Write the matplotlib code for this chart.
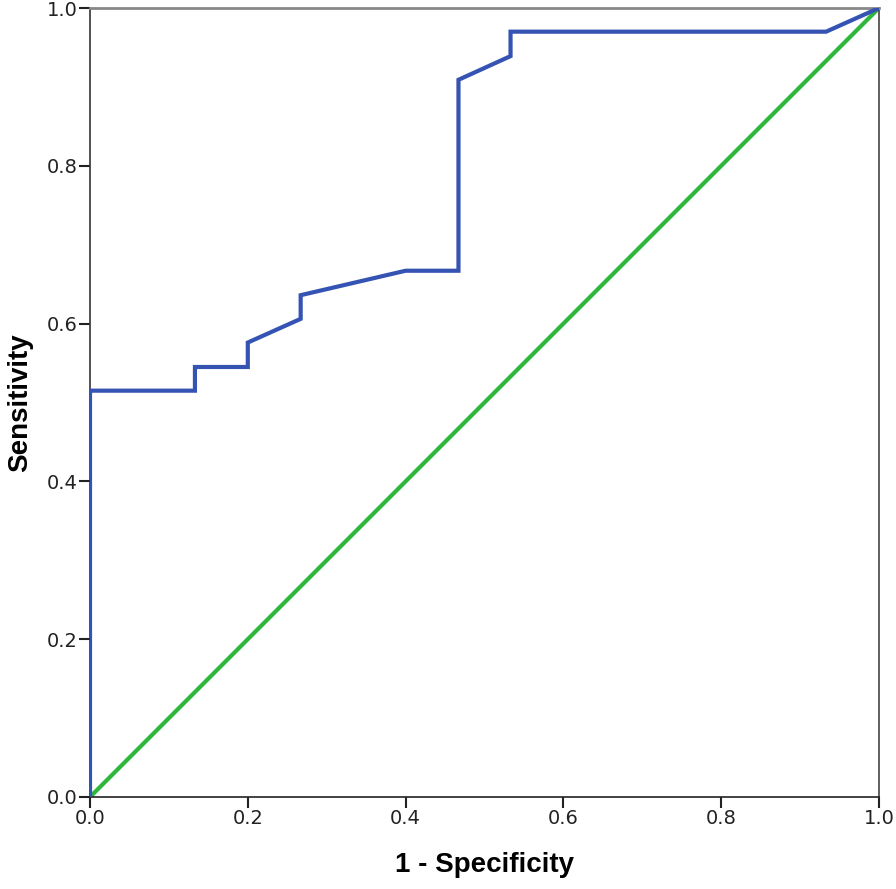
import numpy as np
import matplotlib.pyplot as plt

# ROC curve points (1 - specificity, sensitivity)
fpr = [0.0, 0.0, 0.133, 0.133, 0.2, 0.2, 0.267, 0.267, 0.4, 0.467, 0.467, 0.533, 0.533, 0.933, 1.0]
tpr = [0.0, 0.515, 0.515, 0.545, 0.545, 0.576, 0.606, 0.636, 0.667, 0.667, 0.909, 0.939, 0.970, 0.970, 1.0]
ref_line = [0.0, 1.0]
ticks = [0.0, 0.2, 0.4, 0.6, 0.8, 1.0]

plt.rcParams["font.family"] = ["Liberation Sans", "DejaVu Sans"]

fig = plt.figure(figsize=(8.96, 8.89), dpi=100)
ax = fig.add_axes([90 / 896, 92 / 889, 789 / 896, 789 / 889])

ax.plot(ref_line, ref_line, color="#2db83d", lw=3, zorder=2)
ax.plot(fpr, tpr, color="#3553b3", lw=3, zorder=3, solid_joinstyle="miter")

ax.set_xlim(0, 1)
ax.set_ylim(0, 1)
ax.set_xticks(ticks)
ax.set_yticks(ticks)
ax.set_xticklabels(["%.1f" % t for t in ticks], family="DejaVu Sans", fontsize=14)
ax.set_yticklabels(["%.1f" % t for t in ticks], family="DejaVu Sans", fontsize=14)
ax.tick_params(direction="out", length=8, width=1.5, pad=1, colors="#222222")

ax.spines["top"].set_color("#888888")
ax.spines["top"].set_linewidth(2)
ax.spines["right"].set_color("#444444")
ax.spines["left"].set_color("#333333")
ax.spines["bottom"].set_color("#222222")
for s in ["right", "left", "bottom"]:
    ax.spines[s].set_linewidth(1.2)

ax.set_xlabel("1 - Specificity", fontsize=20, fontweight="bold", labelpad=17)
ax.set_ylabel("Sensitivity", fontsize=20, fontweight="bold", labelpad=10)

fig.savefig("out.png", dpi=100)
